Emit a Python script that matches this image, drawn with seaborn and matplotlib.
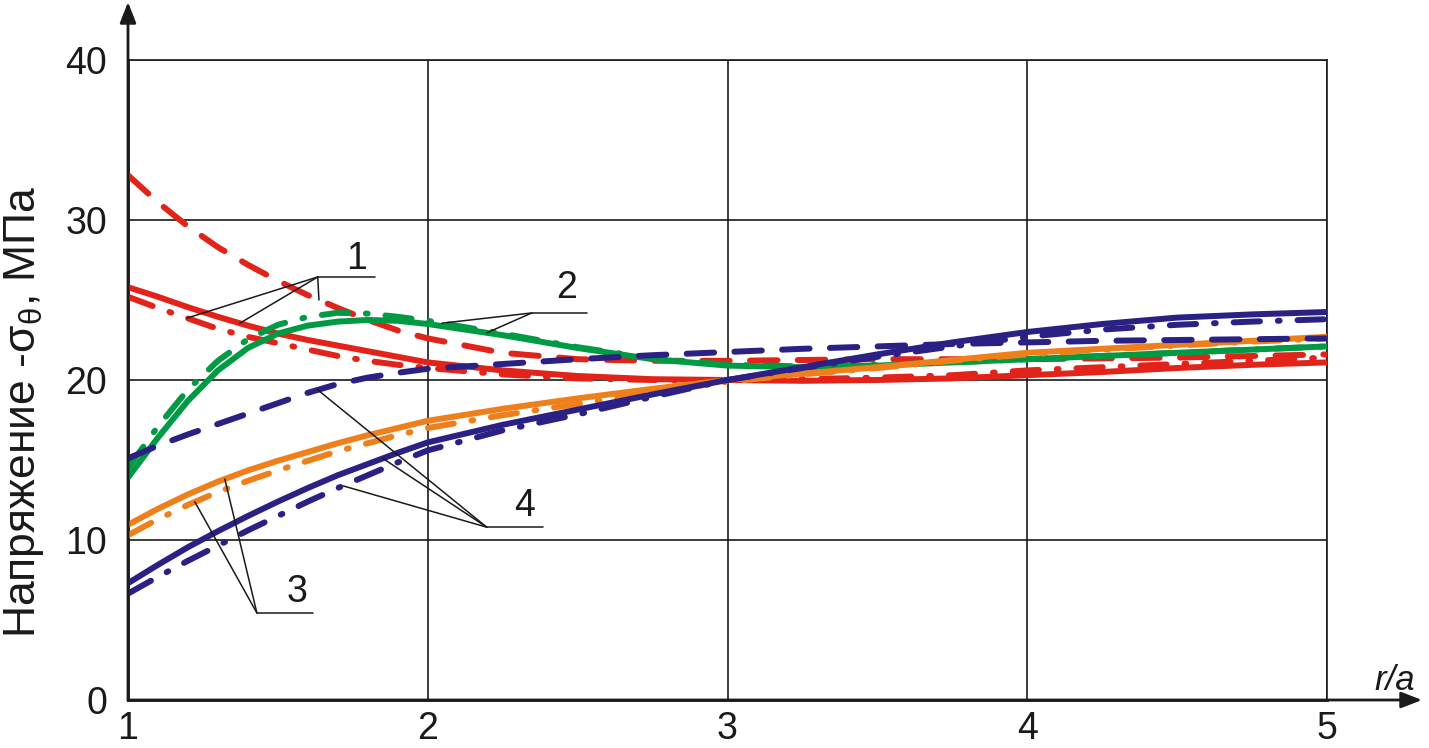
import numpy as np
import matplotlib
matplotlib.use("Agg")
import matplotlib.pyplot as plt
import seaborn as sns

# ---------------- data ----------------
X = [1.0, 1.1, 1.2, 1.3, 1.4, 1.5, 1.6, 1.7, 1.8, 1.9, 2.0,
     2.25, 2.5, 2.75, 3.0, 3.25, 3.5, 3.75, 4.0, 4.25, 4.5, 4.75, 5.0]

red_dashed = [32.8, 31.1, 29.6, 28.3, 27.2, 26.2, 25.3, 24.5, 23.75, 23.1, 22.6,
              21.7, 21.3, 21.2, 21.2, 21.25, 21.3, 21.3, 21.3, 21.35, 21.4, 21.5, 21.6]
red_solid = [25.8, 25.2, 24.55, 23.95, 23.4, 22.9, 22.5, 22.15, 21.8, 21.45, 21.1,
             20.6, 20.25, 20.05, 20.0, 19.95, 20.0, 20.1, 20.3, 20.5, 20.75, 20.95, 21.1]
red_dashdot = [25.2, 24.5, 23.85, 23.2, 22.7, 22.3, 21.9, 21.5, 21.2, 20.95, 20.75,
               20.35, 20.1, 20.0, 20.0, 20.05, 20.15, 20.3, 20.6, 20.8, 21.0, 21.2, 21.4]
green_solid = [13.9, 16.4, 18.7, 20.6, 22.0, 22.9, 23.4, 23.65, 23.75, 23.7, 23.5,
               22.8, 22.0, 21.3, 20.9, 20.8, 20.9, 21.1, 21.3, 21.5, 21.7, 21.9, 22.1]
green_dashdot = [14.5, 17.1, 19.4, 21.2, 22.55, 23.45, 23.95, 24.2, 24.15, 23.95, 23.7,
                 22.9, 22.05, 21.35, 20.95, 20.85, 20.95, 21.1, 21.3, 21.5, 21.7, 21.9, 22.1]
orange_solid = [10.95, 11.95, 12.85, 13.65, 14.35, 14.95, 15.5, 16.05, 16.55, 17.0, 17.45,
                18.2, 18.85, 19.45, 20.0, 20.4, 20.8, 21.25, 21.7, 21.95, 22.2, 22.45, 22.7]
orange_dashdot = [10.3, 11.3, 12.2, 13.0, 13.7, 14.35, 14.95, 15.55, 16.05, 16.55, 17.0,
                  17.8, 18.5, 19.2, 19.9, 20.35, 20.75, 21.2, 21.6, 21.9, 22.15, 22.4, 22.6]
blue_dashed = [15.1, 15.9, 16.6, 17.25, 17.9, 18.55, 19.2, 19.75, 20.15, 20.45, 20.7,
               21.0, 21.3, 21.55, 21.75, 21.95, 22.1, 22.25, 22.35, 22.45, 22.5, 22.55, 22.6]
blue_solid = [7.3, 8.45, 9.55, 10.55, 11.5, 12.4, 13.25, 14.05, 14.75, 15.45, 16.1,
              17.2, 18.15, 19.1, 20.0, 20.8, 21.6, 22.35, 23.0, 23.5, 23.9, 24.1, 24.25]
blue_dashdot = [6.65, 7.7, 8.7, 9.65, 10.6, 11.5, 12.4, 13.25, 14.05, 14.85, 15.6,
                16.85, 17.85, 18.95, 20.0, 20.75, 21.45, 22.1, 22.7, 23.15, 23.45, 23.65, 23.8]

x_ticks = [1, 2, 3, 4, 5]
y_ticks = [0, 10, 20, 30, 40]
y_label = "Напряжение -$\\mathrm{σ}_{\\mathrm{θ}}$, МПа"
x_label = "r/a"

# ---------------- styles ----------------
RED, GREEN, ORANGE, BLUE = "#E2231A", "#009A44", "#EF7F1A", "#2B2083"
DASH = (0, (4.6, 3.4))
DASHDOT = (0, (4.4, 3.0, 0.3, 3.0))
SOLID = "-"

series = {
    "red_dashed": (red_dashed, RED, DASH),
    "red_dashdot": (red_dashdot, RED, DASHDOT),
    "red_solid": (red_solid, RED, SOLID),
    "green_dashdot": (green_dashdot, GREEN, DASHDOT),
    "green_solid": (green_solid, GREEN, SOLID),
    "orange_dashdot": (orange_dashdot, ORANGE, DASHDOT),
    "orange_solid": (orange_solid, ORANGE, SOLID),
    "blue_dashed": (blue_dashed, BLUE, DASH),
    "blue_dashdot": (blue_dashdot, BLUE, DASHDOT),
    "blue_solid": (blue_solid, BLUE, SOLID),
}

# label, text position, hub point, end of shelf, targets (series, x)
callouts = [
    ("1", (1.763, 27.55), (1.633, 26.44), 1.823,
     [("red_dashdot", 1.197), ("red_solid", 1.373), ("red_dashed", 1.637)]),
    ("2", (2.463, 25.75), (2.347, 24.19), 2.53,
     [("green_dashdot", 2.047), ("green_solid", 2.197)]),
    ("3", (1.563, 6.75), (1.43, 5.44), 1.617,
     [("orange_solid", 1.323), ("orange_dashdot", 1.223)]),
    ("4", (2.323, 12.1), (2.197, 10.8), 2.383,
     [("blue_dashed", 1.633), ("blue_solid", 1.85), ("blue_dashdot", 1.717)]),
]

# ---------------- figure ----------------
sns.set_style("white")
plt.rcParams["font.family"] = ["Liberation Sans", "DejaVu Sans"]
plt.rcParams["mathtext.fontset"] = "custom"
plt.rcParams["mathtext.rm"] = "Liberation Sans"
plt.rcParams["mathtext.it"] = "Liberation Sans:italic"

W, H = 1429, 748
fig = plt.figure(figsize=(W / 100, H / 100), dpi=100)
L, R, B, T = 128, 1327, 700, 60
ax = fig.add_axes([L / W, 1 - B / H, (R - L) / W, (B - T) / H])

ax.set_xlim(1, 5)
ax.set_ylim(0, 40)
ax.set_xticks(x_ticks)
ax.set_yticks(y_ticks)
ax.grid(True, color="#1a1a1a", lw=1.2)
ax.tick_params(length=0, labelsize=27, colors="#1a1a1a")
ax.tick_params(axis="x", pad=8)
ax.tick_params(axis="y", pad=15)
for s in ["top", "right"]:
    ax.spines[s].set_linewidth(1.2)
    ax.spines[s].set_color("#1a1a1a")
for s in ["left", "bottom"]:
    ax.spines[s].set_linewidth(2.0)
    ax.spines[s].set_color("#1a1a1a")

LW = 4.3
for name, (vals, col, ls) in series.items():
    sns.lineplot(x=X, y=vals, ax=ax, color=col, lw=LW, linestyle=ls,
                 sort=False, estimator=None, legend=False,
                 dash_capstyle="round", solid_capstyle="round",
                 solid_joinstyle="round", zorder=3)

# callouts
for lab, txy, hub, shelf_end, targets in callouts:
    ax.plot([hub[0], shelf_end], [hub[1], hub[1]], color="#1a1a1a", lw=1.1, zorder=4)
    for sname, tx in targets:
        ty = float(np.interp(tx, X, series[sname][0]))
        ax.plot([hub[0], tx], [hub[1], ty], color="#1a1a1a", lw=1.1, zorder=4)
    ax.text(txy[0], txy[1], lab, fontsize=27, ha="center", va="center",
            color="#1a1a1a", zorder=5)

# axis arrows
arrow_kw = dict(arrowstyle="-|>,head_length=0.9,head_width=0.35",
                lw=2.0, color="#1a1a1a", shrinkA=0, shrinkB=0, mutation_scale=14)
ax.annotate("", xy=(1 + (1422 - R) / (R - L), 0), xytext=(0, 0),
            xycoords="axes fraction", textcoords="axes fraction",
            arrowprops=arrow_kw, annotation_clip=False)
ax.annotate("", xy=(0, 1 + (T - 2) / (B - T)), xytext=(0, 0),
            xycoords="axes fraction", textcoords="axes fraction",
            arrowprops=arrow_kw, annotation_clip=False)

fig.text(1395 / W, 1 - 680 / H, x_label, fontsize=25, fontstyle="italic",
         ha="center", va="center", color="#1a1a1a")
fig.text(24 / W, 1 - 412 / H, y_label, fontsize=32, rotation=90,
         ha="center", va="center", color="#1a1a1a")

fig.savefig("out.png", dpi=100, facecolor="white")
